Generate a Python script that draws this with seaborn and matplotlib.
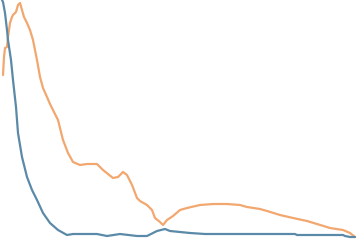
import matplotlib
matplotlib.use("Agg")
import matplotlib.pyplot as plt
import seaborn as sns
import pandas as pd

# series values (x position, height)
orange_x = [3, 4, 5, 7, 8, 10, 12, 13, 16, 18, 20, 22, 24, 27, 30, 33, 35, 37, 40, 43, 47, 50, 53, 58,
            63, 68, 73, 80, 87, 97, 103, 113, 118, 123, 127, 132, 137, 140, 147, 152, 155, 160, 163, 167, 173, 180,
            187, 200, 213, 227, 240, 247, 260, 267, 280, 293, 307, 317, 330, 343, 350, 355]
orange_y = [165, 183, 192, 193, 203, 217, 223, 225, 228, 235, 237, 230, 223, 217, 210, 200, 190, 180, 163, 152, 143, 136, 130, 120,
            100, 87, 78, 75, 76, 76, 70, 62, 63, 68, 65, 55, 42, 39, 35, 30, 22, 18, 15, 20, 24, 30,
            32, 35, 36, 36, 35, 33, 31, 29, 25, 22, 19, 16, 12, 10, 7, 3]
blue_x = [2, 3, 5, 7, 8, 11, 13, 16, 18, 22, 27, 32, 37, 43, 50, 58, 67, 73, 97, 107, 120, 137, 147, 157, 165, 170, 180,
          190, 205, 240, 295, 297, 343, 345, 350, 355]
blue_y = [240, 238, 227, 210, 200, 180, 160, 133, 107, 83, 63, 50, 40, 27, 17, 10, 5, 6, 6, 4, 6, 4, 4, 9, 11, 9, 8,
          7, 6, 6, 6, 5, 5, 4, 3, 3]

sns.set_theme(style="white")
fig = plt.figure(figsize=(3.6, 2.4), dpi=100)
ax = fig.add_axes([0, 0, 1, 1])
df_o = pd.DataFrame({"x": orange_x, "y": orange_y})
df_b = pd.DataFrame({"x": blue_x, "y": blue_y})
sns.lineplot(data=df_o, x="x", y="y", ax=ax, color="#f2a76f", linewidth=1.6, sort=False)
sns.lineplot(data=df_b, x="x", y="y", ax=ax, color="#5a8aa8", linewidth=1.6, sort=False)
ax.set_xlim(0, 360)
ax.set_ylim(0, 240)
ax.set_axis_off()
fig.savefig("out.png", dpi=100)
